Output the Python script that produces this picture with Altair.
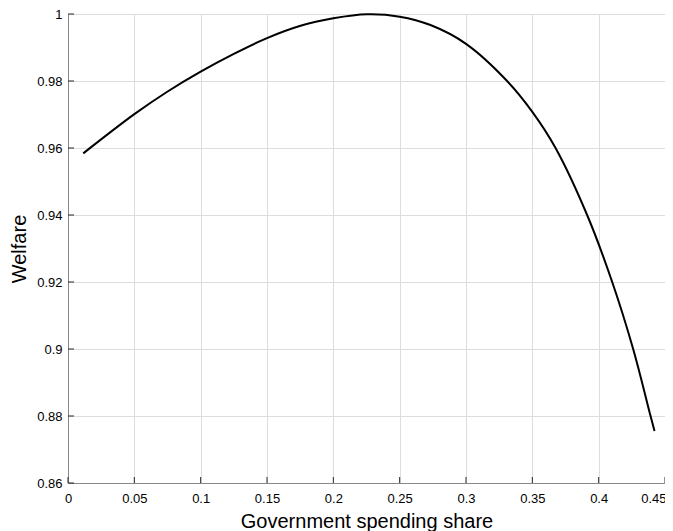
import altair as alt
import pandas as pd

# Curve
share = [0.0115, 0.05, 0.0748, 0.10, 0.125, 0.15, 0.1747, 0.20, 0.2255, 0.25,
         0.2732, 0.30, 0.331, 0.35, 0.3675, 0.3913, 0.4102,
         0.426, 0.4391, 0.4421]
welfare = [0.9584, 0.9701, 0.9768, 0.9828, 0.9881, 0.9928, 0.9964, 0.9987, 0.9999, 0.9992,
           0.9967, 0.9911, 0.9800, 0.9708, 0.9600, 0.9400, 0.9200,
           0.9000, 0.8800, 0.8755]

x_ticks = [0, 0.05, 0.1, 0.15, 0.2, 0.25, 0.3, 0.35, 0.4, 0.45]
y_ticks = [0.86, 0.88, 0.9, 0.92, 0.94, 0.96, 0.98, 1.0]

W, H = 597, 469
FONT = "Liberation Sans"

df = pd.DataFrame({"share": share, "welfare": welfare})
xt = pd.DataFrame({"t": x_ticks})
yt = pd.DataFrame({"t": y_ticks})

xscale = alt.Scale(domain=[0, 0.45], nice=False, zero=False)
yscale = alt.Scale(domain=[0.86, 1.0], nice=False, zero=False)

line = alt.Chart(df).mark_line(color="black", strokeWidth=2, interpolate="catmull-rom").encode(
    x=alt.X("share:Q", scale=xscale,
            axis=alt.Axis(title="Government spending share", values=x_ticks, format=".2~f",
                          grid=True, ticks=False, labelPadding=9, labelFontSize=13,
                          labelFlush=False, labelOverlap=False,
                          labelAlign={"condition": {"test": "datum.value >= 0.449", "value": "right"},
                                      "value": "center"},
                          labelOffset={"condition": {"test": "datum.value >= 0.449", "value": 1},
                                       "value": 0},
                          titleFontSize=20, titleFontWeight="normal", titleY=44,
                          titleBaseline="alphabetic")),
    y=alt.Y("welfare:Q", scale=yscale,
            axis=alt.Axis(title="Welfare", values=y_ticks, format=".2~f",
                          grid=True, ticks=False, labelPadding=6, labelFontSize=13,
                          labelFlush=False, labelOverlap=False,
                          titleFontSize=20, titleFontWeight="normal", titleX=-43,
                          titleBaseline="alphabetic")),
)

xtick_marks = alt.Chart(xt).mark_rule(color="#262626", strokeWidth=1).encode(
    x=alt.X("t:Q", scale=xscale),
    y=alt.value(H),
    y2=alt.value(H - 6),
)
ytick_marks = alt.Chart(yt).mark_rule(color="#262626", strokeWidth=1).encode(
    y=alt.Y("t:Q", scale=yscale),
    x=alt.value(0),
    x2=alt.value(6),
)

chart = alt.layer(line, xtick_marks, ytick_marks).properties(
    width=W, height=H,
    autosize=alt.AutoSizeParams(type="none"),
    padding={"left": 60, "top": 6, "right": 0, "bottom": 48},
).configure_view(stroke=None).configure_axis(
    domainColor="#262626", domainWidth=1, gridColor="#dedede", gridWidth=1,
    labelColor="#262626", titleColor="#262626", labelFont=FONT, titleFont=FONT,
).configure(background="white")

chart.save("out.html", embed_options={"renderer": "svg", "actions": False})
